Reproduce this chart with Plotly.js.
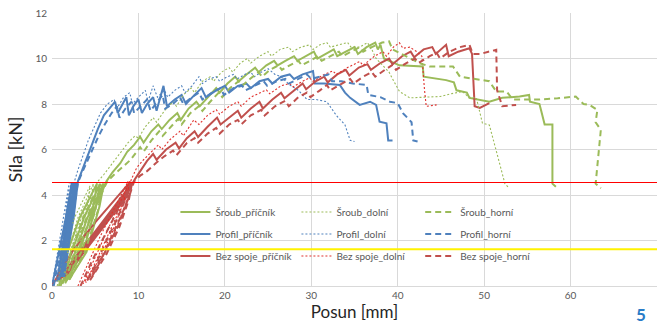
<!DOCTYPE html>
<html><head><meta charset="utf-8">
<script src="https://cdn.plot.ly/plotly-3.0.1.min.js"></script>
<style>html,body{margin:0;padding:0;background:#fff}#chart{width:657px;height:334px}</style>
</head><body><div id="chart"></div>
<script>
// ---- data: [posun mm, síla kN] ----
const sroubPricnik = [[0.8,0],[1.8,1.5],[3.2,3.0],[5.2,4.5],[4.8,3.5],[3.2,1.5],[1.2,0.1],[2.3,1.5],[3.7,3.0],[5.6,4.5],[5.1,3.5],[3.6,1.5],[1.6,0.2],[2.7,1.5],[4.1,3.0],[6.0,4.5],[5.5,3.5],[4.0,1.5],[2.0,0.3],[3.0,1.5],[4.5,3.0],[6.3,4.6],[7.0,5.0],[7.9,5.4],[8.7,5.9],[9.5,6.2],[10.2,6.56],[10.6,6.3],[11.5,6.8],[12.3,7.1],[12.7,6.9],[13.6,7.3],[14.5,7.6],[14.9,7.3],[15.8,7.8],[16.7,8.1],[17.1,7.9],[18.0,8.3],[19.0,8.7],[19.4,8.5],[20.3,8.9],[21.2,9.2],[21.6,9.0],[22.5,9.3],[23.5,9.6],[23.9,9.4],[24.8,9.7],[25.7,9.9],[26.1,9.7],[27.0,9.9],[28.0,10.1],[28.4,9.9],[29.3,10.1],[30.3,10.3],[30.7,10.0],[31.6,10.2],[32.6,10.4],[33.0,10.1],[34.0,10.3],[35.0,10.5],[35.4,10.2],[36.4,10.5],[37.4,10.7],[37.7,10.4],[38.0,10.6],[38.4,10.0],[40.2,9.7],[42.9,9.65],[43.0,9.2],[45.6,9.05],[46.5,8.95],[46.8,8.6],[48.0,8.5],[48.3,8.27],[50.6,8.1],[52.1,8.27],[54.1,8.33],[55.2,8.4],[55.3,8.1],[56.4,8.0],[56.6,7.7],[57.0,7.1],[57.9,7.1],[57.9,4.5],[58.3,4.36]];
const sroubDolni = [[0.6,0],[1.4,1.5],[2.6,3.0],[4.4,4.4],[4.0,3.3],[2.6,1.5],[1.0,0.1],[1.8,1.5],[3.0,3.0],[4.8,4.5],[4.3,3.3],[2.9,1.5],[1.3,0.2],[2.1,1.5],[3.4,3.0],[5.3,4.6],[6.0,4.9],[7.0,5.4],[7.9,5.8],[8.8,6.3],[9.6,6.6],[10.0,6.5],[10.8,7.0],[11.7,7.4],[12.1,7.2],[13.0,7.7],[14.0,8.1],[14.4,7.9],[15.2,8.4],[16.1,8.7],[16.5,8.5],[17.4,9.0],[18.3,9.2],[18.7,9.0],[19.6,9.4],[20.5,9.6],[20.9,9.4],[21.8,9.8],[22.6,10.0],[23.0,9.8],[24.0,10.1],[25.0,10.3],[25.4,10.1],[26.4,10.4],[27.4,10.5],[27.8,10.3],[28.8,10.5],[29.8,10.6],[30.2,10.4],[31.0,10.6],[31.8,10.7],[32.2,10.5],[33.2,10.6],[34.2,10.7],[34.6,10.5],[35.6,10.5],[36.5,10.7],[37.0,10.4],[37.5,10.0],[38.3,9.7],[39.0,9.4],[39.4,9.1],[40.2,8.55],[41.4,8.27],[43.0,8.3],[44.9,8.33],[46.2,8.45],[47.5,8.55],[48.2,8.3],[49.1,8.27],[49.8,7.16],[50.6,7.08],[51.5,5.8],[52.4,4.5],[52.9,4.3]];
const sroubHorni = [[1.0,0],[2.2,1.5],[3.6,3.0],[5.5,4.5],[5.0,3.3],[3.4,1.5],[1.5,0.1],[2.6,1.5],[4.0,3.0],[5.9,4.5],[5.3,3.3],[3.8,1.5],[1.9,0.2],[3.0,1.5],[4.4,3.0],[6.4,4.6],[7.2,4.9],[8.1,5.2],[9.1,5.55],[10.2,6.1],[10.6,5.9],[11.5,6.4],[12.4,6.8],[12.8,6.6],[13.7,7.0],[14.6,7.35],[15.0,7.1],[16.0,7.6],[17.0,7.9],[17.4,7.7],[18.3,8.1],[19.3,8.5],[19.7,8.3],[20.6,8.7],[21.6,9.0],[22.0,8.8],[22.9,9.1],[23.9,9.4],[24.3,9.2],[25.2,9.5],[26.2,9.7],[26.6,9.5],[27.5,9.7],[28.5,9.9],[28.9,9.7],[29.8,9.9],[30.8,10.1],[31.2,9.9],[32.2,10.1],[33.2,10.3],[33.6,10.1],[34.6,10.3],[35.6,10.5],[36.0,10.3],[37.0,10.5],[38.2,10.7],[39.0,10.75],[39.4,10.4],[40.4,10.2],[41.5,10.0],[42.5,9.8],[43.7,9.65],[46.4,9.65],[47.2,9.2],[50.6,9.0],[51.4,8.55],[52.6,8.55],[53.3,8.2],[56.4,8.2],[58.5,8.25],[60.6,8.33],[61.5,8.0],[62.2,7.96],[63.1,7.74],[62.9,7.2],[63.5,6.86],[63.2,5.5],[62.9,4.5],[63.5,4.3]];
const profilPricnik = [[0,0],[0.8,1.5],[1.6,3.0],[2.3,4.55],[1.8,3.0],[1.1,1.5],[0.6,0.2],[1.4,1.5],[2.1,3.0],[2.6,4.55],[2.0,3.0],[1.3,1.5],[0.8,0.25],[1.6,1.5],[2.3,3.0],[2.8,4.55],[2.2,3.0],[1.5,1.5],[1.0,0.3],[1.8,1.5],[2.5,3.0],[3.0,4.6],[3.4,5.0],[4.0,5.6],[4.6,6.2],[5.3,6.9],[6.0,7.5],[6.8,7.9],[7.3,8.1],[7.6,7.6],[8.2,8.0],[8.6,8.3],[8.9,7.5],[9.4,7.9],[10.0,8.2],[10.4,7.6],[11.0,8.0],[11.7,8.3],[12.1,7.7],[12.9,8.8],[13.3,7.9],[14.2,8.2],[15.0,8.4],[15.5,8.0],[16.5,8.4],[17.3,8.7],[17.8,8.3],[19.0,8.6],[20.0,8.8],[20.5,8.5],[21.5,8.8],[22.5,8.9],[23.0,8.7],[24.0,9.0],[25.0,9.1],[25.5,8.9],[26.5,9.2],[27.5,9.3],[28.0,9.1],[29.0,9.3],[30.2,9.45],[30.4,8.9],[31.5,8.9],[33.3,8.84],[33.9,8.5],[34.5,8.27],[35.6,7.96],[36.8,8.1],[37.5,7.96],[37.9,7.22],[38.7,7.15],[38.9,6.4],[39.4,6.4]];
const profilDolni = [[0,0],[1.0,2.2],[2.0,4.55],[1.4,2.5],[0.5,0.2],[1.3,2.2],[2.2,4.55],[1.6,2.5],[0.7,0.25],[1.5,2.2],[2.4,4.55],[1.8,2.5],[0.9,0.3],[1.7,2.2],[2.6,4.6],[3.0,5.1],[3.6,5.8],[4.2,6.4],[4.9,7.0],[5.6,7.6],[6.4,8.0],[7.2,8.2],[7.5,7.8],[8.3,8.3],[9.0,8.5],[9.3,8.0],[10.0,8.3],[10.8,8.6],[11.1,8.1],[11.7,8.8],[12.2,8.3],[13.0,8.6],[13.4,8.3],[14.2,8.6],[15.0,8.8],[15.4,8.5],[16.2,8.8],[17.0,9.2],[17.4,8.9],[18.2,9.1],[19.0,9.2],[19.4,9.0],[20.3,9.2],[21.0,9.3],[21.4,9.1],[22.3,9.3],[23.0,9.4],[23.4,9.2],[24.2,9.4],[25.0,9.55],[25.8,9.3],[26.5,9.2],[27.5,8.84],[28.5,8.6],[29.5,8.2],[30.5,8.2],[31.8,8.1],[32.2,7.9],[32.9,7.5],[33.9,7.08],[34.5,6.4],[35.0,6.35]];
const profilHorni = [[0.2,0],[1.2,2.0],[2.4,4.55],[1.9,2.8],[1.0,0.4],[1.6,1.8],[2.6,4.55],[2.1,2.8],[1.2,0.4],[1.8,1.8],[2.8,4.55],[2.3,2.8],[1.4,0.4],[2.0,1.8],[3.0,4.55],[3.5,5.0],[4.1,5.5],[4.7,6.0],[5.4,6.6],[6.1,7.1],[6.9,7.6],[7.5,7.9],[7.8,7.4],[8.5,7.8],[9.2,8.1],[9.5,7.6],[10.3,7.9],[11.0,8.2],[11.4,7.7],[12.2,8.1],[12.8,8.4],[13.1,7.8],[14.0,8.0],[14.8,8.3],[15.2,8.0],[16.2,8.3],[17.0,8.5],[17.4,8.2],[18.5,8.5],[19.5,8.7],[19.9,8.4],[21.0,8.7],[22.0,8.8],[22.4,8.6],[23.5,8.8],[24.5,9.0],[24.9,8.8],[26.0,9.0],[27.0,9.1],[27.4,8.9],[28.5,9.1],[29.5,9.3],[30.0,9.1],[31.0,9.2],[32.0,9.3],[32.4,9.0],[33.5,9.0],[34.8,8.9],[36.4,8.84],[36.6,8.4],[38.0,8.3],[39.1,8.1],[40.0,8.04],[40.6,7.6],[41.6,7.2],[41.8,6.4],[42.3,6.35]];
const bezPricnik = [[0,0],[1.2,0.8],[2.5,1.6],[5.0,2.8],[7.5,3.9],[9.0,4.55],[8.2,3.9],[5.6,2.6],[3.2,1.4],[1.0,0.3],[2.0,0.9],[3.4,1.6],[5.8,2.8],[8.0,3.9],[9.3,4.55],[8.6,3.9],[6.0,2.6],[3.6,1.4],[1.4,0.35],[2.4,0.95],[3.8,1.6],[6.2,2.8],[8.4,3.9],[9.6,4.7],[10.3,5.1],[11.0,5.5],[11.7,5.8],[12.1,5.55],[13.2,6.0],[14.3,6.3],[14.7,6.05],[15.6,6.5],[16.5,6.8],[16.9,6.55],[18.0,7.0],[19.1,7.4],[19.5,7.1],[20.5,7.4],[21.5,7.7],[21.9,7.4],[23.0,7.8],[24.0,8.1],[24.4,7.8],[25.5,8.2],[26.5,8.5],[26.9,8.25],[28.0,8.6],[29.0,8.9],[29.4,8.65],[30.5,9.0],[31.5,9.2],[31.9,8.95],[33.0,9.3],[34.0,9.5],[34.4,9.25],[35.5,9.6],[36.5,9.75],[36.9,9.5],[38.0,9.8],[39.0,10.0],[39.4,9.75],[40.5,10.1],[41.5,10.3],[41.9,10.05],[43.0,10.4],[44.0,10.5],[44.4,10.2],[45.6,10.6],[45.9,10.1],[47.0,10.3],[48.3,10.45],[48.6,10.2],[48.9,7.9],[49.5,7.83],[50.6,8.04]];
const bezDolni = [[3.0,0],[4.4,1.2],[5.6,2.2],[6.8,3.1],[7.9,3.9],[8.8,4.6],[8.2,3.6],[6.8,2.2],[5.2,1.0],[3.6,0.1],[4.8,1.1],[6.0,2.1],[7.2,3.1],[8.2,3.9],[9.0,4.6],[8.5,3.6],[7.1,2.2],[5.5,1.0],[3.9,0.15],[5.1,1.1],[6.3,2.1],[7.5,3.1],[8.5,3.9],[9.2,4.7],[9.8,5.2],[10.6,5.55],[11.7,5.98],[12.3,6.2],[12.7,6.0],[13.7,6.45],[14.8,6.8],[15.2,6.6],[16.4,7.3],[17.0,7.1],[18.0,7.5],[19.0,7.75],[19.4,7.55],[20.5,7.9],[21.5,8.1],[21.9,7.9],[23.0,8.3],[24.8,8.62],[25.2,8.45],[26.5,8.8],[27.5,8.9],[27.9,8.75],[29.0,9.0],[29.8,9.15],[30.2,9.0],[31.5,9.3],[32.5,9.45],[32.9,9.3],[34.2,9.6],[35.6,9.87],[36.0,9.7],[37.3,10.1],[38.3,10.3],[38.7,10.1],[39.5,10.5],[40.2,10.69],[40.6,10.45],[41.4,10.5],[42.2,10.3],[42.8,10.1],[43.1,8.62],[43.3,7.9],[44.5,7.96]];
const bezHorni = [[3.3,0],[4.5,1.0],[5.8,2.0],[7.2,3.0],[8.4,3.9],[9.2,4.6],[8.8,3.8],[7.6,2.6],[6.0,1.4],[4.0,0.2],[5.0,0.9],[6.3,2.0],[7.6,3.0],[8.6,3.9],[9.3,4.6],[8.9,3.8],[7.8,2.6],[6.3,1.4],[4.4,0.25],[5.4,0.95],[6.7,2.0],[7.9,3.0],[8.9,3.9],[9.5,4.6],[10.2,4.85],[11.0,5.05],[12.0,5.4],[13.0,5.7],[14.0,5.95],[14.4,5.75],[15.6,6.28],[16.5,6.5],[16.9,6.3],[18.0,6.7],[19.0,6.95],[19.4,6.7],[20.5,7.1],[21.5,7.3],[21.9,7.1],[23.0,7.5],[24.2,7.74],[24.6,7.5],[25.8,7.9],[27.0,8.15],[27.4,7.9],[28.5,8.3],[29.5,8.5],[29.9,8.3],[31.0,8.6],[31.8,8.84],[32.2,8.6],[33.5,8.9],[34.5,9.1],[34.9,8.9],[36.0,9.2],[37.0,9.4],[37.4,9.2],[38.5,9.5],[39.4,9.72],[39.8,9.5],[41.0,9.8],[42.0,10.0],[42.4,9.8],[43.7,10.1],[44.5,10.25],[44.9,10.0],[46.0,10.3],[47.2,10.5],[48.3,10.6],[48.7,10.2],[49.6,10.2],[50.5,10.3],[51.4,10.38],[51.5,8.6],[52.1,7.9],[53.7,7.96]];
const thresholdLines = [4.55, 1.62];
const xTicks = [0,10,20,30,40,50,60,70];
const yTicks = [0,2,4,6,8,10,12];

const GREEN = '#9BBB59', BLUE = '#4F81BD', RED = '#C0504D';
const SOLID = {dash:'solid', width:2}, DOT = {dash:'2px,2px', width:1.1}, DASH = {dash:'6px,4px', width:2};

function tr(name, pts, color, st, legend) {
  return {type:'scatter', mode:'lines', name:name, x:pts.map(p=>p[0]), y:pts.map(p=>p[1]),
    line:{color:color, width:st.width, dash:st.dash}, legend:legend, legendgroup:name, hoverinfo:'skip'};
}
const data = [
  tr('Šroub_příčník', sroubPricnik, GREEN, SOLID, 'legend'),
  tr('Profil_příčník', profilPricnik, BLUE, SOLID, 'legend'),
  tr('Bez spoje_příčník', bezPricnik, RED, SOLID, 'legend'),
  tr('Šroub_dolní', sroubDolni, GREEN, DOT, 'legend2'),
  tr('Profil_dolní', profilDolni, BLUE, DOT, 'legend2'),
  tr('Bez spoje_dolní', bezDolni, '#E0302C', DOT, 'legend2'),
  tr('Šroub_horní', sroubHorni, GREEN, DASH, 'legend3'),
  tr('Profil_horní', profilHorni, BLUE, DASH, 'legend3'),
  tr('Bez spoje_horní', bezHorni, RED, DASH, 'legend3')
];
const legBase = {y:0.324, xanchor:'left', yanchor:'top', bgcolor:'rgba(0,0,0,0)', borderwidth:0,
  font:{size:10, color:'#595959', family:'Lato, sans-serif'}, tracegroupgap:3};
const layout = {
  width:657, height:334, margin:{l:52, r:0, t:13, b:48},
  paper_bgcolor:'#fff', plot_bgcolor:'#fff',
  font:{family:'Lato, sans-serif', color:'#595959'},
  showlegend:true,
  legend:Object.assign({x:0.204}, legBase),
  legend2:Object.assign({x:0.404}, legBase),
  legend3:Object.assign({x:0.6086}, legBase),
  xaxis:{range:[0,70], tickvals:xTicks, showgrid:true, gridcolor:'#D9D9D9', gridwidth:1, zeroline:false,
    showline:true, linecolor:'#D9D9D9', ticks:'', tickfont:{size:10, color:'#595959'},
    title:{text:'Posun [mm]', font:{size:17, color:'#262626'}, standoff:5}},
  yaxis:{range:[0,12], tickvals:yTicks, showgrid:true, gridcolor:'#D9D9D9', gridwidth:1, zeroline:false,
    showline:false, ticks:'', tickfont:{size:10, color:'#595959'}, ticklabelstandoff:4,
    title:{text:'Síla [kN]', font:{size:18, color:'#262626'}, standoff:8}},
  shapes:[
    {type:'line', xref:'paper', x0:0, x1:1, yref:'y', y0:thresholdLines[0], y1:thresholdLines[0], line:{color:'#FF0000', width:1.2}},
    {type:'line', xref:'paper', x0:0, x1:1, yref:'y', y0:thresholdLines[1], y1:thresholdLines[1], line:{color:'#FFF200', width:2}}
  ],
  annotations:[{xref:'paper', yref:'paper', x:0.985, y:-0.152, text:'<b>5</b>', showarrow:false,
    font:{size:17, color:'#2A7CC7', family:'Lato, sans-serif'}}]
};
Plotly.newPlot('chart', data, layout, {displayModeBar:false, staticPlot:true});
</script></body></html>
